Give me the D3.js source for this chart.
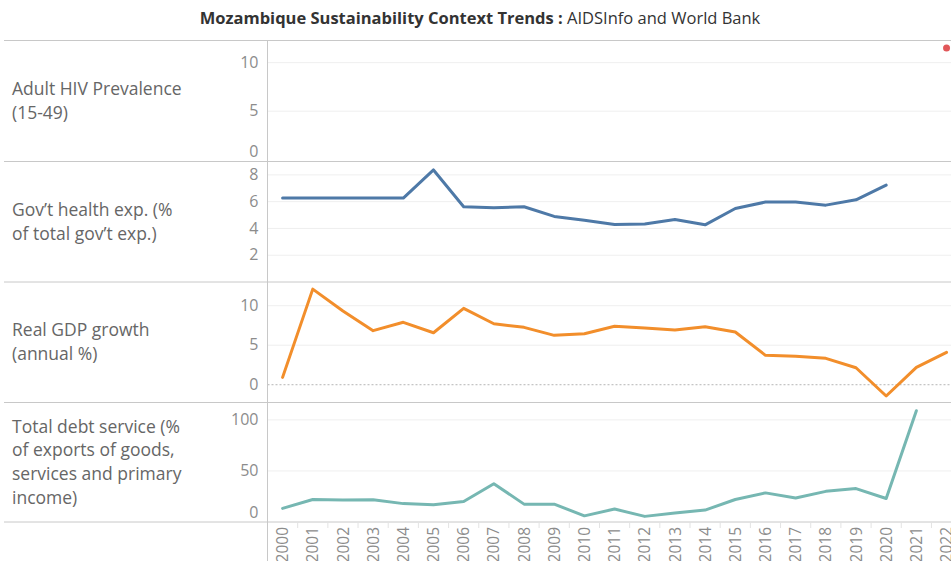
<!DOCTYPE html>
<html>
<head>
<meta charset="utf-8">
<script src="https://cdn.jsdelivr.net/npm/d3@7"></script>
<style>
	body { margin: 0; background: #ffffff; }
	#chart { width: 951px; height: 561px; overflow: hidden; }
</style>
</head>
<body>
<div id="chart"></div>
<script>
/* mozambique trends */

var years = ["2000","2001","2002","2003","2004","2005","2006","2007","2008","2009","2010",
	"2011","2012","2013","2014","2015","2016","2017","2018","2019","2020","2021","2022"];

// adult HIV prevalence (15-49), only 2022 reported
var hivPrevalence = [null,null,null,null,null,null,null,null,null,null,null,
	null,null,null,null,null,null,null,null,null,null,null,11.5];

// gov't health exp. (% of total gov't exp.)
var govHealthExp = [6.27,6.27,6.27,6.27,6.27,8.37,5.62,5.54,5.62,4.9,4.62,
	4.3,4.34,4.67,4.27,5.49,5.97,5.97,5.74,6.14,7.24,null,null];

// real GDP growth (annual %)
var gdpGrowth = [0.93,12.1,9.33,6.84,7.9,6.58,9.67,7.72,7.26,6.25,6.46,
	7.39,7.18,6.92,7.34,6.67,3.72,3.59,3.34,2.15,-1.43,2.2,4.1];

// total debt service (% of exports of goods, services and primary income)
var debtService = [13.3,22,21.5,21.7,18,17,20,37.5,17.5,17.5,6,
	12.7,5.5,8.8,11.7,22,28.5,23.5,30,32.7,23,109,null];

var rowLabels = [
	["Adult HIV Prevalence", "(15-49)"],
	["Gov\u2019t health exp. (%", "of total gov\u2019t exp.)"],
	["Real GDP growth", "(annual %)"],
	["Total debt service (%", "of exports of goods,", "services and primary", "income)"]
];
var rowTicks = [[0, 5, 10], [2, 4, 6, 8], [0, 5, 10], [0, 50, 100]];
var rowDomains = [[-0.18, 12.28], [0, 9], [-2.25, 13], [0, 117]];

var mz = {
	w: 951,
	h: 561,
	axisX: 267.5,
	paneTops: [40.5, 161.5, 282, 402.5],
	paneBottom: 522,
	render: function() {
		var g = d3.select("#chart").append("svg")
			.attr("width", mz.w)
			.attr("height", mz.h);

		var x = d3.scaleBand()
			.domain(years)
			.range([mz.axisX, mz.axisX + 23 * 30.18]);

		mz.renderTitle(g);

		var series = [
			{ values: hivPrevalence, color: "#e15759", dots: true },
			{ values: govHealthExp, color: "#4e79a7" },
			{ values: gdpGrowth, color: "#f28e2b", zeroLine: true },
			{ values: debtService, color: "#76b7b2" }
		];

		for (var i = 0; i < series.length; i++) {
			var top = mz.paneTops[i];
			var bottom = (i < 3) ? mz.paneTops[i + 1] : mz.paneBottom;
			mz.renderRow(g, x, i, top, bottom, series[i]);
		}

		mz.renderFrame(g);
		mz.renderYears(g, x);
	},
	renderTitle: function(g) {
		var t = g.append("text")
			.attr("x", 480)
			.attr("y", 24)
			.attr("font-family", "Open Sans")
			.attr("font-size", "16.5px")
			.attr("fill", "#333333")
			.style("text-anchor", "middle");
		t.append("tspan")
			.attr("font-weight", "bold")
			.text("Mozambique Sustainability Context Trends : ");
		t.append("tspan")
			.text("AIDSInfo and World Bank");
	},
	renderRow: function(g, x, i, top, bottom, s) {
		var y = d3.scaleLinear()
			.domain(rowDomains[i])
			.range([bottom, top]);

		// grid lines
		rowTicks[i].forEach(function(t) {
			if (t == 0) return;
			g.append("line")
				.style("stroke", "#efefef")
				.style("stroke-width", 1)
				.attr("x1", mz.axisX)
				.attr("y1", y(t))
				.attr("x2", mz.w)
				.attr("y2", y(t));
		});

		if (s.zeroLine) {
			g.append("line")
				.style("stroke", "#b5b5b5")
				.style("stroke-width", 1)
				.style("stroke-dasharray", "2,2")
				.attr("x1", mz.axisX)
				.attr("y1", y(0))
				.attr("x2", mz.w)
				.attr("y2", y(0));
		}

		// y axis labels, kept inside the pane
		var axis = d3.axisLeft(y)
			.tickValues(rowTicks[i])
			.tickSize(0)
			.tickPadding(9);
		var ax = g.append("g")
			.attr("transform", "translate(" + mz.axisX + ",0)")
			.call(axis);
		ax.select(".domain").remove();
		ax.selectAll(".tick")
			.attr("transform", function(d) {
				return "translate(0," + Math.min(y(d), bottom - 9.5) + ")";
			});
		ax.selectAll("text")
			.attr("font-family", "Open Sans")
			.attr("font-size", "16px")
			.attr("fill", "#8c8c8c");

		// row label
		var lines = rowLabels[i];
		var mid = (top + bottom) / 2;
		var lh = 23.8;
		var y0 = mid - (lines.length - 1) * lh / 2 + 6;
		var lbl = g.append("text")
			.attr("font-family", "Open Sans")
			.attr("font-size", "17.5px")
			.attr("fill", "#666666");
		lines.forEach(function(l, k) {
			lbl.append("tspan")
				.attr("x", 12)
				.attr("y", y0 + k * lh)
				.text(l);
		});

		// data
		var pts = years.map(function(yr, k) { return { year: yr, v: s.values[k] }; })
			.filter(function(d) { return d.v != null; });

		if (s.dots) {
			g.selectAll(null)
				.data(pts)
				.enter().append("circle")
				.attr("cx", function(d) { return x(d.year) + x.bandwidth() / 2; })
				.attr("cy", function(d) { return y(d.v); })
				.attr("r", 3.5)
				.attr("fill", s.color);
		} else {
			var line = d3.line()
				.x(function(d) { return x(d.year) + x.bandwidth() / 2; })
				.y(function(d) { return y(d.v); });
			g.append("path")
				.datum(pts)
				.attr("d", line)
				.attr("fill", "none")
				.attr("stroke", s.color)
				.attr("stroke-width", 3)
				.attr("stroke-linejoin", "round")
				.attr("stroke-linecap", "round");
		}
	},
	renderFrame: function(g) {
		var seps = mz.paneTops.concat([mz.paneBottom]);
		seps.forEach(function(sy) {
			g.append("line")
				.style("stroke", "#c8c8c8")
				.style("stroke-width", 1)
				.attr("x1", 4)
				.attr("y1", sy)
				.attr("x2", mz.w)
				.attr("y2", sy);
		});
		g.append("line")
			.style("stroke", "#c8c8c8")
			.style("stroke-width", 1)
			.attr("x1", mz.axisX)
			.attr("y1", mz.paneTops[0])
			.attr("x2", mz.axisX)
			.attr("y2", mz.h);
	},
	renderYears: function(g, x) {
		// little separators between year bands
		years.forEach(function(yr, k) {
			if (k == 0) return;
			g.append("line")
				.style("stroke", "#e3e3e3")
				.style("stroke-width", 1)
				.attr("x1", x(yr))
				.attr("y1", mz.paneBottom)
				.attr("x2", x(yr))
				.attr("y2", mz.paneBottom + 6);
		});
		g.selectAll(null)
			.data(years)
			.enter().append("text")
			.attr("transform", function(d) {
				return "translate(" + (x(d) + x.bandwidth() / 2) + "," + (mz.paneBottom + 5) + ") rotate(-90)";
			})
			.attr("dy", "0.36em")
			.attr("font-family", "Open Sans")
			.attr("font-size", "15.5px")
			.attr("fill", "#8c8c8c")
			.style("text-anchor", "end")
			.text(function(d) { return d; });
	}
};

mz.render();
</script>
</body>
</html>
